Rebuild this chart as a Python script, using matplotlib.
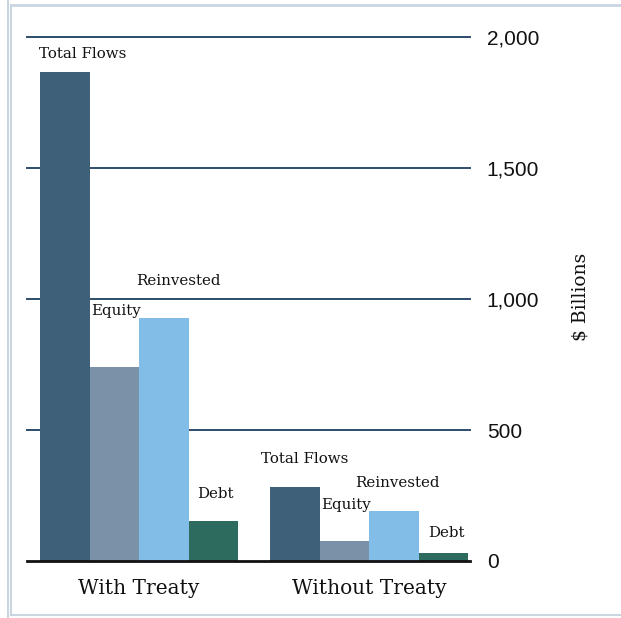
import numpy as np
import matplotlib.pyplot as plt
from matplotlib.lines import Line2D

# FDI flows by component, $ billions
groups = ['With Treaty', 'Without Treaty']
components = ['Total Flows', 'Equity', 'Reinvested', 'Debt']
with_treaty = [1866, 740, 927, 153]
without_treaty = [282, 76, 191, 31]
colors = ['#3e6079', '#7b91a8', '#82bde8', '#2e6b5f']
yticks = [0, 500, 1000, 1500, 2000]

# label offsets relative to each bar (x in group units, y in $bn)
label_dx = [[0.076, 0.009, 0.063, 0.009],
            [0.043, 0.009, 0.015, 0.015]]
label_y = [[1935, 954, 1069, 256],
           [389, 214, 298, 107]]

serif = ['DejaVu Serif']
W, H = 621, 618
fig = plt.figure(figsize=(W / 100, H / 100), dpi=100)
ax = fig.add_axes([27 / W, (H - 561) / H, (470 - 27) / W, (561 - 37) / H])

width = 0.2152
x = np.arange(len(groups))
values = [with_treaty, without_treaty]
for g, vals in enumerate(values):
    for i, v in enumerate(vals):
        xc = x[g] + (i - 1.5) * width
        ax.bar(xc, v, width=width, color=colors[i], zorder=3)
        ax.text(xc + label_dx[g][i], label_y[g][i], components[i],
                ha='center', va='center', fontsize=10.8, family=serif,
                color='#111111', zorder=4)

ax.set_xlim(-0.487, 1.439)
ax.set_ylim(0, 2000)

for t in yticks[1:]:
    ax.axhline(t, color='#2d4d6e', lw=1.4, clip_on=False, zorder=2)
ax.axhline(0, color='#111111', lw=2, clip_on=False, zorder=5)

ax.yaxis.tick_right()
ax.set_yticks(yticks)
ax.set_yticklabels([f'{t:,}' for t in yticks], family='Liberation Sans',
                   fontsize=15, color='#111111')
ax.tick_params(axis='y', length=0, pad=12)
ax.set_xticks(x)
ax.set_xticklabels(groups, family=serif, fontsize=14.5, color='#111111')
ax.tick_params(axis='x', length=0, pad=13)
for s in ax.spines.values():
    s.set_visible(False)

fig.text(580 / W, 1 - 297 / H, '$ Billions', rotation=90, ha='center',
         va='center', family=serif, fontsize=13.5, color='#111111')

# frame around the chart
fc = '#c9d5e0'
fig.add_artist(Line2D([8 / W, 8 / W], [0, 1], color=fc, lw=1.5))
fig.add_artist(Line2D([11 / W, 11 / W], [1 - 615 / H, 1 - 5 / H], color=fc, lw=1.5))
fig.add_artist(Line2D([11 / W, 1], [1 - 5 / H, 1 - 5 / H], color=fc, lw=2))
fig.add_artist(Line2D([11 / W, 1], [1 - 615 / H, 1 - 615 / H], color=fc, lw=1.5))

fig.savefig('out.png', dpi=100)
